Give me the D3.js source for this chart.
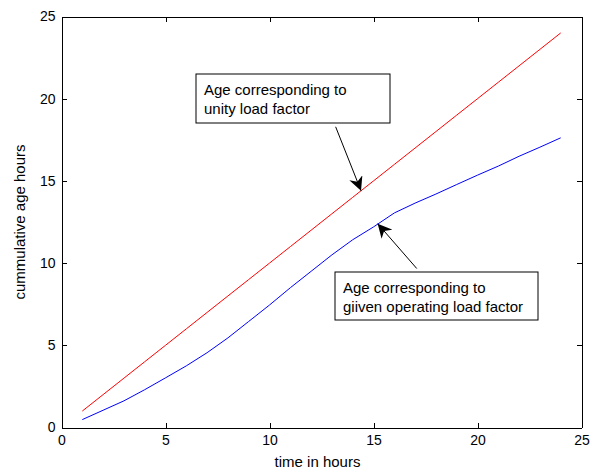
<!DOCTYPE html>
<html>
  <head>
    <meta charset="utf-8">
    <style type="text/css">
      body { margin: 0; background: #fff; }
      svg { font-family: "Liberation Sans", Arial, sans-serif; }
      path.line { fill: none; stroke-width: 1; }
      .axis path, .axis line { stroke: #000; shape-rendering: crispEdges; }
      .axis text { font-size: 14px; fill: #000; }
    </style>
  </head>
  <body>
    <div id="main"></div>
    <script src="https://d3js.org/d3.v7.min.js"></script>
    <script>
    // data
    var hours = [1, 2, 3, 4, 5, 6, 7, 8, 9, 10, 11, 12, 13, 14, 15, 16, 17, 18, 19, 20, 21, 22, 23, 24];
    var unityAge = [1, 2, 3, 4, 5, 6, 7, 8, 9, 10, 11, 12, 13, 14, 15, 16, 17, 18, 19, 20, 21, 22, 23, 24];
    var givenAge = [0.48, 1.05, 1.62, 2.3, 3.02, 3.75, 4.55, 5.45, 6.45, 7.45, 8.5, 9.5, 10.5, 11.42, 12.2, 13.05, 13.65, 14.2, 14.78, 15.35, 15.9, 16.5, 17.05, 17.62];
    var xTicks = [0, 5, 10, 15, 20, 25];
    var yTicks = [0, 5, 10, 15, 20, 25];
    var notes = [
      {lines: ["Age corresponding to", "unity load factor"], box: [6.42, 21.56, 15.76, 18.55], from: [13.18, 18.29], to: [14.4, 14.4]},
      {lines: ["Age corresponding to", "giiven operating load factor"], box: [13.12, 9.49, 22.89, 6.59], from: [17.08, 9.67], to: [15.2, 12.4]}
    ];

    var margin = {top: 16.5, right: 19.5, bottom: 40.5, left: 61.5},
        width = 601 - margin.left - margin.right,
        height = 468 - margin.top - margin.bottom;

    var x = d3.scaleLinear().domain([0, 25]).range([0, width]);
    var y = d3.scaleLinear().domain([0, 25]).range([height, 0]);

    var svg = d3.select("#main")
      .append("svg")
        .attr("width", 601)
        .attr("height", 468)
      .append("g")
        .attr("transform", "translate(" + margin.left + "," + margin.top + ")");

    svg.append("defs").append("marker")
        .attr("id", "head")
        .attr("viewBox", "0 0 10 10")
        .attr("refX", 10).attr("refY", 5)
        .attr("markerWidth", 14).attr("markerHeight", 14)
        .attr("markerUnits", "userSpaceOnUse")
        .attr("orient", "auto")
      .append("path")
        .attr("d", "M0,0 L10,5 L0,10 L3,5 Z")
        .attr("fill", "#000");

    // box axes, ticks pointing inward
    svg.append("g").attr("class", "axis")
        .attr("transform", "translate(0," + height + ")")
        .call(d3.axisBottom(x).tickValues(xTicks).tickSizeInner(-5).tickSizeOuter(0).tickPadding(8));
    svg.append("g").attr("class", "axis")
        .call(d3.axisTop(x).tickValues(xTicks).tickSizeInner(-5).tickSizeOuter(0).tickFormat(""));
    svg.append("g").attr("class", "axis")
        .call(d3.axisLeft(y).tickValues(yTicks).tickSizeInner(-5).tickSizeOuter(0).tickPadding(6));
    svg.append("g").attr("class", "axis")
        .attr("transform", "translate(" + width + ",0)")
        .call(d3.axisRight(y).tickValues(yTicks).tickSizeInner(-5).tickSizeOuter(0).tickFormat(""));

    var line = d3.line()
      .x(function(d) { return x(d[0]); })
      .y(function(d) { return y(d[1]); });

    svg.append("path").attr("class", "line")
        .attr("stroke", "#ff0000")
        .attr("d", line(d3.zip(hours, unityAge)));
    svg.append("path").attr("class", "line")
        .attr("stroke", "#0000ff")
        .attr("d", line(d3.zip(hours, givenAge)));

    // annotations
    notes.forEach(function(n) {
      var x0 = Math.round(x(n.box[0])) + 0.5, y0 = Math.round(y(n.box[1])) + 0.5,
          x1 = Math.round(x(n.box[2])) + 0.5, y1 = Math.round(y(n.box[3])) + 0.5;
      svg.append("rect")
          .attr("x", x0).attr("y", y0)
          .attr("width", x1 - x0).attr("height", y1 - y0)
          .attr("fill", "#fff").attr("stroke", "#000").attr("stroke-width", 1);
      n.lines.forEach(function(t, i) {
        svg.append("text")
            .attr("x", x0 + 8)
            .attr("y", y0 + 21 + i * 19)
            .style("font-size", "15px")
            .text(t);
      });
      svg.append("line")
          .attr("x1", x(n.from[0])).attr("y1", y(n.from[1]))
          .attr("x2", x(n.to[0])).attr("y2", y(n.to[1]))
          .attr("stroke", "#000").attr("stroke-width", 1)
          .attr("marker-end", "url(#head)");
    });

    svg.append("text")
        .attr("x", width / 2 - 4)
        .attr("y", height + 39)
        .attr("text-anchor", "middle")
        .style("font-size", "15px")
        .text("time in hours");

    svg.append("text")
        .attr("transform", "translate(" + (-37) + "," + (height / 2) + ") rotate(-90)")
        .attr("text-anchor", "middle")
        .style("font-size", "15px")
        .text("cummulative age hours");
    </script>
  </body>
</html>
